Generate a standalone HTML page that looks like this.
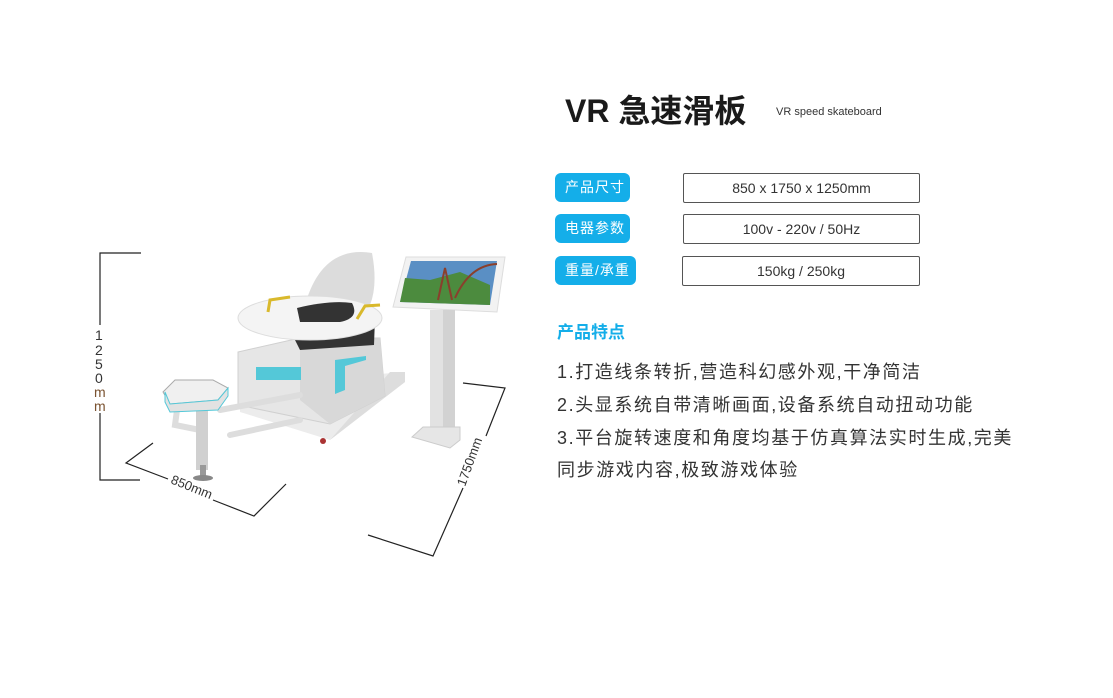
<!DOCTYPE html>
<html><head><meta charset="utf-8"><style>
body{margin:0;width:1113px;height:698px;background:#fff;position:relative;overflow:hidden;font-family:"Liberation Sans","Noto Sans CJK SC",sans-serif;color:#222}
.a{position:absolute;white-space:nowrap}
.pill{position:absolute;background:#14aee9;color:#fff;border-radius:6px;font-size:14px;line-height:28px;padding-left:10px;box-sizing:border-box;letter-spacing:1px}
.box{position:absolute;border:1px solid #555;border-radius:2px;box-sizing:border-box;text-align:center;font-size:14px;color:#333}
.f{position:absolute;left:557px;font-size:18px;color:#333;white-space:nowrap;letter-spacing:1.6px}
</style></head><body>
<div class="a" style="left:565px;top:86px;font-size:32px;font-weight:bold;color:#1a1a1a">VR 急速滑板</div>
<div class="a" style="left:776px;top:106px;font-size:11px;color:#333">VR speed skateboard</div>
<div class="pill" style="left:555px;top:173px;width:75px;height:29px">产品尺寸</div>
<div class="pill" style="left:555px;top:214px;width:75px;height:29px">电器参数</div>
<div class="pill" style="left:555px;top:256px;width:81px;height:29px">重量/承重</div>
<div class="box" style="left:683px;top:173px;width:237px;height:30px;line-height:28px">850 x 1750 x 1250mm</div>
<div class="box" style="left:683px;top:214px;width:237px;height:30px;line-height:28px">100v - 220v / 50Hz</div>
<div class="box" style="left:682px;top:256px;width:238px;height:30px;line-height:28px">150kg / 250kg</div>
<div class="a" style="left:557px;top:318px;font-size:17px;font-weight:bold;color:#14aee9">产品特点</div>
<div class="f" style="top:358px">1.打造线条转折,营造科幻感外观,干净简洁</div>
<div class="f" style="top:391px">2.头显系统自带清晰画面,设备系统自动扭动功能</div>
<div class="f" style="top:424px">3.平台旋转速度和角度均基于仿真算法实时生成,完美</div>
<div class="f" style="top:456px">同步游戏内容,极致游戏体验</div>
<svg class="a" style="left:0;top:0" width="1113" height="698">
<g stroke="#222" stroke-width="1.2" fill="none">
<polyline points="141,253 100,253 100,325"/><polyline points="100,413 100,480 140,480"/>
<polyline points="153,443 126,463 168,479"/><polyline points="213,500 254,516 286,484"/>
<polyline points="463,383 505,388 486,436"/><polyline points="463,488 433,556 368,535"/>
</g>
<g font-size="14" fill="#333" font-family="Liberation Sans,sans-serif">
<text x="95" y="340">1</text><text x="95" y="355">2</text><text x="95" y="369">5</text><text x="95" y="383">0</text>
<text x="94" y="397" fill="#7a5230">m</text><text x="94" y="411" fill="#7a5230">m</text>
<text transform="translate(170,483) rotate(22)" font-size="13">850mm</text>
<text transform="translate(465,487) rotate(-70)" font-size="13">1750mm</text>
</g>
<polygon points="240,395 300,380 405,372 405,382 330,440 240,412" fill="#ececec"/>
<path d="M330,440 L405,382 L405,372 L390,372" fill="#ddd"/>
<polygon points="238,352 300,338 380,338 385,396 330,424 238,405" fill="#e6e6e6" stroke="#d0d0d0"/>
<polygon points="300,345 380,338 385,396 330,424 300,400" fill="#d8d8d8"/>
<rect x="256" y="367" width="45" height="13" fill="#54c8d8"/>
<polygon points="335,360 366,356 366,360 345,366 345,390 335,394" fill="#54c8d8"/>
<polygon points="290,330 375,318 374,345 300,350" fill="#333"/>
<path d="M305,305 Q322,245 372,253 Q378,285 370,305 Z" fill="#dcdcdc"/>
<ellipse cx="310" cy="318" rx="72" ry="22" fill="#f4f4f4" stroke="#ddd"/>
<path d="M297,308 Q330,300 352,303 Q360,318 340,322 L300,322 Z" fill="#333"/>
<path d="M268,312 L270,300 L290,297" stroke="#d9b92c" stroke-width="3" fill="none"/>
<path d="M357,319 L365,306 L380,305" stroke="#d9b92c" stroke-width="3" fill="none"/>
<g stroke="#ddd" stroke-width="6" fill="none" stroke-linecap="round"><path d="M220,410 L300,395"/><path d="M230,435 L300,420"/><path d="M177,410 L175,425 L200,430"/></g>
<rect x="196" y="410" width="12" height="60" fill="#d0d0d0"/><rect x="200" y="465" width="6" height="12" fill="#999"/>
<ellipse cx="203" cy="478" rx="10" ry="3" fill="#888"/>
<polygon points="163,392 175,380 213,380 228,388 218,400 170,404" fill="#f0f0f0" stroke="#aaa"/>
<polygon points="165,392 170,404 218,400 228,388 228,396 218,410 170,412 165,402" fill="#e2e2e2" stroke="#54c8d8" stroke-width="1"/>
<circle cx="323" cy="441" r="3" fill="#a33"/>
<polygon points="406,257 505,257 497,312 393,307" fill="#f2f2f2" stroke="#ddd"/>
<polygon points="411,261 497,261 490,305 400,302" fill="#5a8fc4"/>
<polygon points="400,302 405,278 430,280 460,272 490,285 490,305" fill="#4c8b3e"/>
<path d="M438,300 L445,268 L452,300 M455,298 Q470,265 497,264" stroke="#8a3f2c" stroke-width="2" fill="none"/>
<rect x="430" y="310" width="25" height="125" fill="#e2e2e2"/><rect x="443" y="310" width="12" height="125" fill="#d2d2d2"/>
<polygon points="412,437 423,427 460,427 460,440 450,448" fill="#e6e6e6" stroke="#ccc"/>
</svg>
</body></html>
